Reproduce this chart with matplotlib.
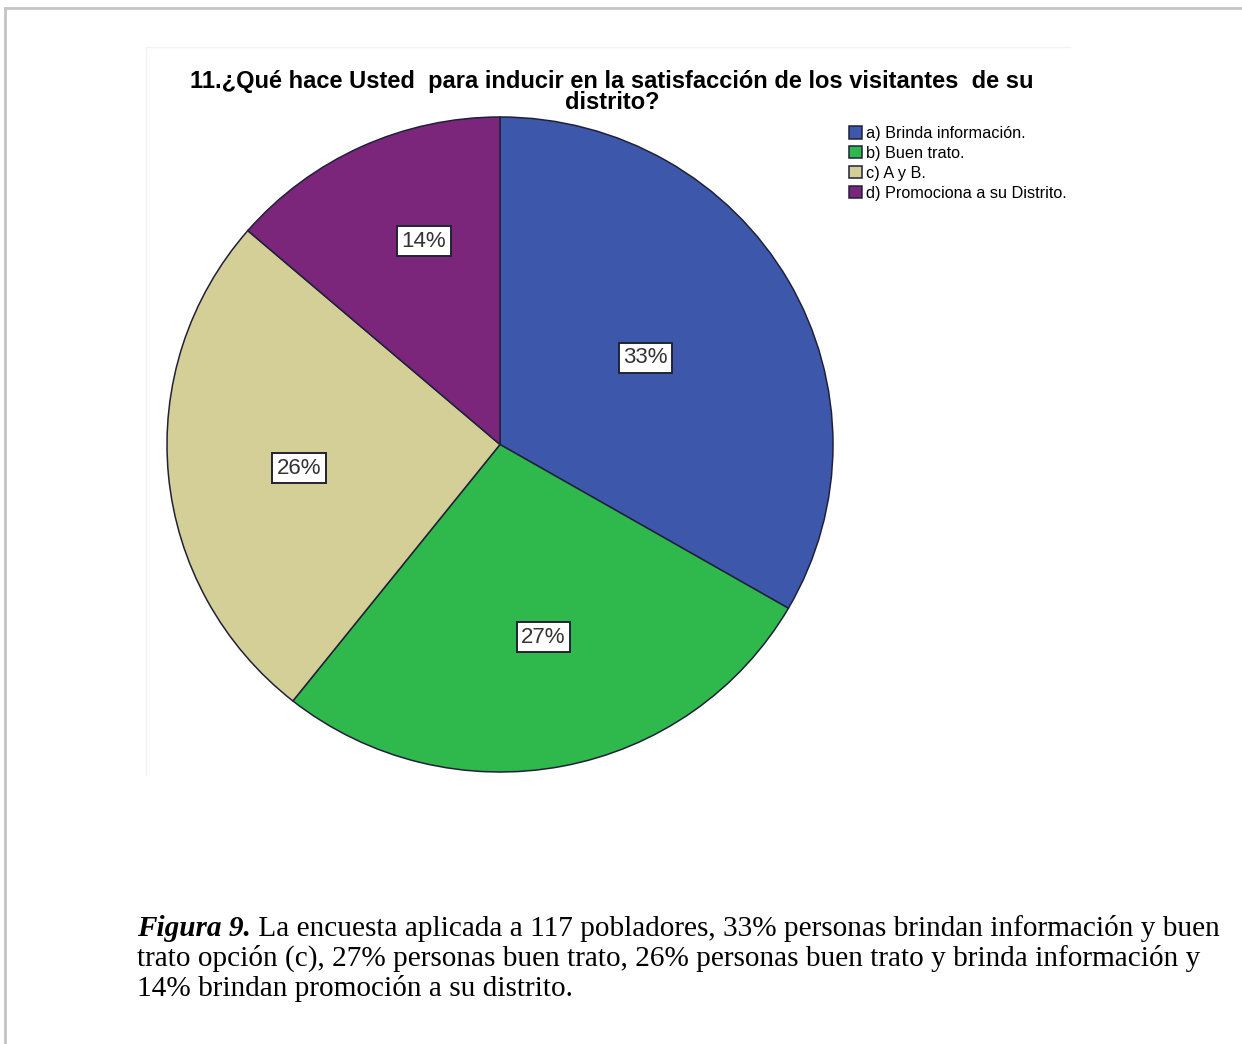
import numpy as np
import matplotlib
matplotlib.use("Agg")
import matplotlib.pyplot as plt
from matplotlib.lines import Line2D

# data (117 respondents)
categories = ["a) Brinda información.", "b) Buen trato.", "c) A y B.",
              "d) Promociona a su Distrito."]
counts = [39, 32, 30, 16]
colors = ["#3d58ab", "#2fb84b", "#d4cf97", "#7b267b"]

title = ("11.¿Qué hace Usted  para inducir en la satisfacción de los visitantes  de su\n"
         "distrito?")
caption_bold = "Figura 9."
caption_lines = [
    " La encuesta aplicada a 117 pobladores, 33% personas brindan información y buen",
    "trato opción (c), 27% personas buen trato, 26% personas buen trato y brinda información y",
    "14% brindan promoción a su distrito.",
]

W, H = 1242, 1044
fig = plt.figure(figsize=(W / 100, H / 100), dpi=100)

# background axes in pixel coordinates (y from the top)
bg = fig.add_axes([0, 0, 1, 1])
bg.set_xlim(0, W)
bg.set_ylim(H, 0)
bg.axis("off")

# pie axes: the original pie is slightly wider than tall
left, top, right, bottom = 167, 117, 833, 772
ax = fig.add_axes([left / W, (H - bottom) / H, (right - left) / W, (bottom - top) / H])
wedges, _ = ax.pie(counts, colors=colors, startangle=90, counterclock=False,
                   radius=1, wedgeprops=dict(edgecolor="#20203a", linewidth=1.1))
ax.set_xlim(-1, 1)
ax.set_ylim(-1, 1)
ax.set_aspect("auto")
ax.axis("off")

total = sum(counts)
label_frac = [0.511, 0.602, 0.608, 0.662]
label_shift = [1.3, 1.7, 1.4, -4.4]   # degrees
for w, c, f, s in zip(wedges, counts, label_frac, label_shift):
    ang = np.deg2rad((w.theta1 + w.theta2) / 2 + s)
    ax.text(f * np.cos(ang), f * np.sin(ang),
            f"{round(100 * c / total)}%", ha="center", va="center",
            fontsize=16, color="#333333", family="Liberation Sans",
            bbox=dict(boxstyle="square,pad=0.2", fc="white", ec="#222233", lw=1.4))

# outer page border (top and left visible)
bg.add_line(Line2D([5, 5], [8, H], color="#c4c4c4", lw=2))
bg.add_line(Line2D([5, W], [8, 8], color="#c4c4c4", lw=2))
# faint chart image frame
bg.add_line(Line2D([146, 146, 1070], [775, 47, 47], color="#f3f3f3", lw=1))

bg.text(612, 92, title, ha="center", va="center", fontsize=17,
        fontweight="bold", family="Liberation Sans", linespacing=0.85)

leg = bg.legend(wedges, categories, loc="upper left",
                bbox_to_anchor=(849 / W, 1 - 126 / H), frameon=False,
                prop=dict(family="Liberation Sans", size=11.7),
                handlelength=0.8, handleheight=0.8, handletextpad=0.25,
                labelspacing=0.3, borderpad=0, borderaxespad=0)

# caption: bold-italic lead then regular text
renderer = fig.canvas.get_renderer()
x0, y0 = 137, 936
size = 21.1
t = bg.text(x0, y0, caption_bold, fontsize=size, family="Liberation Serif",
            fontweight="bold", fontstyle="italic", va="baseline")
bb = t.get_window_extent(renderer)
bg.text(x0 + bb.width, y0, caption_lines[0], fontsize=size,
        family="Liberation Serif", va="baseline")
bg.text(x0, y0 + 30, caption_lines[1], fontsize=size, family="Liberation Serif",
        va="baseline")
bg.text(x0, y0 + 60, caption_lines[2], fontsize=size, family="Liberation Serif",
        va="baseline")

fig.savefig("out.png", dpi=100)
